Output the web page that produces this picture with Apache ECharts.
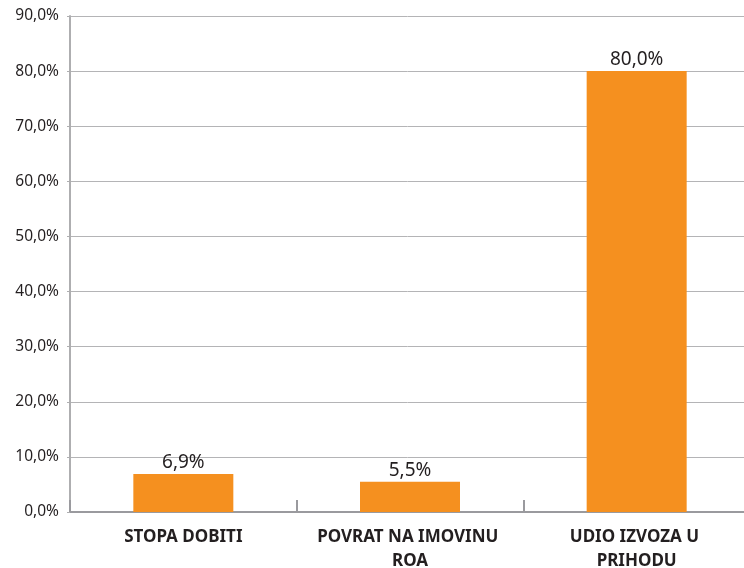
<!DOCTYPE html>
<html>
<head>
<meta charset="utf-8">
<script src="https://cdn.jsdelivr.net/npm/echarts@6/dist/echarts.min.js"></script>
<style>html,body{margin:0;padding:0;background:#fff}#c{width:744px;height:568px}</style>
</head>
<body>
<div id="c"></div>
<script>
const categories = ['STOPA DOBITI', 'POVRAT NA IMOVINU ROA', 'UDIO IZVOZA U PRIHODU'];
const values = [6.9, 5.5, 80.0];
const yTicks = [0, 10, 20, 30, 40, 50, 60, 70, 80, 90];

const fmt = v => v.toFixed(1).replace('.', ',') + '%';
const chart = echarts.init(document.getElementById('c'));
chart.setOption({
  backgroundColor: '#fff',
  animation: false,
  textStyle: { fontFamily: 'Noto Sans' },
  grid: { left: 70, right: -6, top: 16, bottom: 56, containLabel: false, outerBoundsMode: 'none' },
  xAxis: {
    type: 'category',
    data: categories,
    axisLine: { show: true, lineStyle: { color: '#9a9a9e', width: 2 } },
    axisTick: { show: true, inside: true, length: 12, interval: 0, lineStyle: { color: '#9a9a9e', width: 2 } },
    axisLabel: {
      interval: 0,
      color: '#231f20', fontWeight: 'bold', fontSize: 17, margin: 13,
      lineHeight: 24, width: 200, overflow: 'break', fontFamily: 'Noto Sans'
    },
    splitLine: { show: false }
  },
  yAxis: {
    type: 'value',
    min: yTicks[0],
    max: yTicks[yTicks.length - 1],
    interval: 10,
    axisLine: { show: true, lineStyle: { color: '#aeaeb0', width: 2 } },
    axisTick: { show: true, length: 3, lineStyle: { color: '#aeaeb0' } },
    axisLabel: { color: '#231f20', fontSize: 15.5, margin: 11, formatter: v => fmt(v), fontFamily: 'Noto Sans' },
    splitLine: { show: true, lineStyle: { color: '#b4b4b6', width: 1 } }
  },
  series: [{
    type: 'bar',
    data: values,
    barWidth: 100,
    itemStyle: { color: '#f5901f' },
    label: {
      show: true, position: 'top', distance: 2,
      color: '#231f20', fontSize: 19, fontFamily: 'Noto Sans',
      formatter: p => fmt(p.value)
    }
  }]
});
</script>
</body>
</html>
